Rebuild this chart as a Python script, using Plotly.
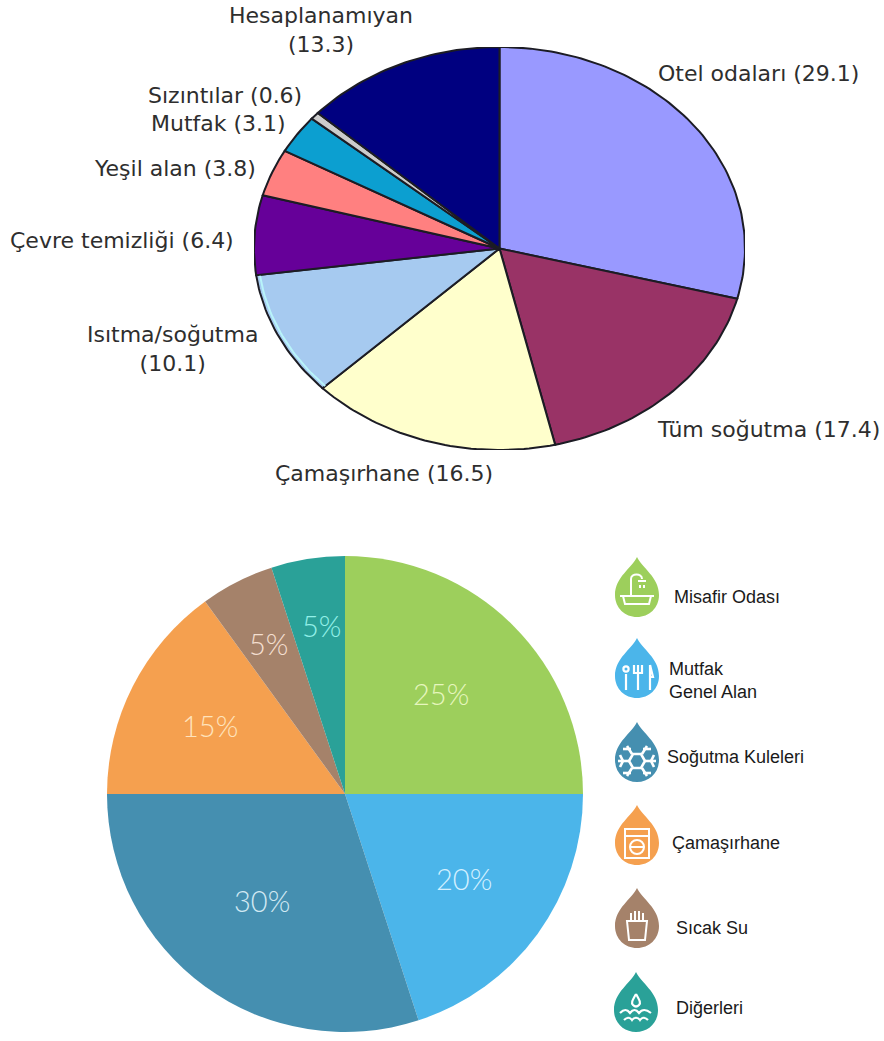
import numpy as np
import plotly.graph_objects as go

W, H = 884, 1041

# Upper chart: share of water use by area
use_names = ["Otel odaları", "Tüm soğutma", "Çamaşırhane", "Isıtma/soğutma", "Çevre temizliği",
             "Yeşil alan", "Mutfak", "Sızıntılar", "Hesaplanamıyan"]
use_values = [29.1, 17.4, 16.5, 10.1, 6.4, 3.8, 3.1, 0.6, 13.3]
use_colors = ["#9999FF", "#993366", "#FFFFCC", "#A6CAF0", "#660099", "#FF8080", "#0C9FD0", "#CCCCCC", "#000080"]
use_label_xy = [(758, 73), (768, 429), (384, 473), (172, 349), (122, 240), (175, 168), (218, 123), (225, 95), (321, 30)]
wrapped_labels = {"Isıtma/soğutma", "Hesaplanamıyan"}

# Lower chart: share by department
dept_names = ["Misafir Odası", "Mutfak<br>Genel Alan", "Soğutma Kuleleri", "Çamaşırhane", "Sıcak Su", "Diğerleri"]
dept_values = [25, 20, 30, 15, 5, 5]
dept_colors = ["#9DCF5C", "#4BB5EA", "#458FB0", "#F5A04F", "#A5826A", "#2AA198"]
dept_value_colors = ["#E6F6BE", "#D3F0FF", "#D2E9F3", "#FFE3BC", "#F4DFD0", "#93F0E8"]
dept_value_xy = [(441, 693), (464, 878), (262, 900), (210, 725), (268, 643), (321, 625)]
dept_text_xy = [(672, 597), (667, 680), (665, 757), (670, 843), (674, 928), (674, 1008)]
dept_drop_xy = [(637, 557), (637, 638), (637, 722), (637, 805), (637, 888), (636, 972)]

fig = go.Figure()

# Elliptical pie: wedges in unit-circle axes, stretched by the axis domains
start = 0.0
total = sum(use_values)
for name, value, color in zip(use_names, use_values, use_colors):
    end = start + value / total * 2 * np.pi
    theta = np.linspace(start, end, max(int(value * 3), 4))
    fig.add_trace(go.Scatter(
        x=np.r_[0, np.sin(theta), 0], y=np.r_[0, np.cos(theta), 0],
        mode="lines", fill="toself", fillcolor=color,
        line=dict(color="#1c1c24", width=2), name=name, showlegend=False,
        xaxis="x2", yaxis="y2", hoverinfo="name",
    ))
    # The heating slice has a pale cyan rim just inside its outline
    if name == "Isıtma/soğutma":
        fig.add_trace(go.Scatter(
            x=0.985 * np.sin(theta), y=0.985 * np.cos(theta), mode="lines",
            line=dict(color="#B8F4FA", width=2), showlegend=False, xaxis="x2", yaxis="y2", hoverinfo="skip",
        ))
    start = end

fig.add_trace(go.Pie(
    values=dept_values, labels=dept_names, sort=False, direction="clockwise", rotation=0,
    marker=dict(colors=dept_colors, line=dict(width=0)), textinfo="none", showlegend=False,
    domain=dict(x=[107 / W, 583 / W], y=[1 - 1032 / H, 1 - 556 / H]),
))

annotations = []


def label(x, y, text, size, color, anchor="center", family="Liberation Sans", weight="normal"):
    annotations.append(dict(x=x, y=y, xref="x", yref="y", text=text, showarrow=False, xanchor=anchor, align=anchor,
                            yanchor="middle", font=dict(family=family, size=size, color=color, weight=weight)))


for name, value, (x, y) in zip(use_names, use_values, use_label_xy):
    sep = "<br>" if name in wrapped_labels else " "
    label(x, y, f"{name}{sep}({value})", 22, "#2e2e2e", family="DejaVu Sans")

for value, color, (x, y) in zip(dept_values, dept_value_colors, dept_value_xy):
    label(x, y, f"{value}%", 29, color, family="Lato", weight=300)

for name, (x, y) in zip(dept_names, dept_text_xy):
    label(x, y, name, 18, "#1a1a1a", anchor="left")

shapes = []


def white_stroke(cx, top, stroke, width):
    path = rel(cx, top, stroke)
    return dict(type="path", path=path, xref="x", yref="y", line=dict(color="white", width=width), layer="above")


def rel(cx, top, parts):
    # Build a path from commands whose coordinates are offsets from the drop's tip
    out = []
    for part in parts:
        cmd, coords = part[0], part[1:]
        pairs = [f"{cx + coords[i]},{top + coords[i + 1]}" for i in range(0, len(coords), 2)]
        out.append(cmd + " ".join(pairs))
    return " ".join(out)


def circle(r, ox, oy):
    k = r * 0.5523
    return [("M", ox - r, oy), ("C", ox - r, oy - k, ox - k, oy - r, ox, oy - r),
            ("C", ox + k, oy - r, ox + r, oy - k, ox + r, oy), ("C", ox + r, oy + k, ox + k, oy + r, ox, oy + r),
            ("C", ox - k, oy + r, ox - r, oy + k, ox - r, oy), ("Z",)]


def segment(x0, y0, x1, y1):
    return [("M", x0, y0), ("L", x1, y1)]


glyphs = [
    # bath and shower
    ([segment(-17, 39, 17, 39),
      [("M", -14, 39), ("L", -12, 47), ("L", 12, 47), ("L", 14, 39)],
      [("M", -6, 39), ("L", -6, 22), ("C", -6, 16, 5, 16, 5, 22)],
      segment(1, 24, 9, 24), segment(3, 28, 3, 31), segment(7, 28, 7, 31)], 2),
    # spoon, fork and knife
    ([segment(-11, 36, -11, 52), circle(2.6, -11, 31),
      segment(1, 27, 1, 52), [("M", -3, 27), ("L", -3, 35), ("L", 5, 35), ("L", 5, 27)],
      segment(13, 27, 13, 52), [("M", 13, 27), ("L", 16, 39), ("L", 13, 39)]], 2.2),
    # snowflake with a hexagonal core
    ([segment(-19, 39, -8, 39), segment(8, 39, 19, 39), segment(-10, 24, -5, 32), segment(5, 46, 10, 54),
      segment(10, 24, 5, 32), segment(-5, 46, -10, 54),
      segment(-17, 33, -14, 39), segment(-17, 45, -14, 39), segment(17, 33, 14, 39), segment(17, 45, 14, 39),
      segment(-14, 27, -6, 27), segment(14, 27, 6, 27), segment(-14, 51, -6, 51), segment(14, 51, 6, 51),
      [("M", -8, 39), ("L", -4, 32), ("L", 4, 32), ("L", 8, 39), ("L", 4, 46), ("L", -4, 46), ("Z",)]], 2.6),
    # washing machine
    ([[("M", -12, 24), ("L", 12, 24), ("L", 12, 53), ("L", -12, 53), ("Z",)], segment(-12, 31, 12, 31),
      circle(7, 0, 42), segment(-6, 42, 6, 42)], 2),
    # cup with steam
    ([[("M", -10, 33), ("L", -8, 52), ("L", 8, 52), ("L", 10, 33), ("Z",)], segment(-6, 33, -6, 25),
      segment(-2, 33, -2, 23), segment(2, 33, 2, 23), segment(6, 33, 6, 25)], 2),
    # droplet over waves
    ([[("M", 0, 22), ("C", 4, 29, 5, 31, 3, 33), ("C", 1, 35, -1, 35, -3, 33), ("C", -5, 31, -4, 29, 0, 22)],
      [("M", -16, 41), ("C", -12, 37, -9, 37, -6, 41), ("C", -3, 37, 0, 37, 3, 41), ("C", 6, 37, 10, 37, 15, 41)],
      [("M", -12, 48), ("C", -9, 45, -6, 45, -4, 48), ("C", -2, 45, 2, 45, 4, 48), ("C", 6, 45, 9, 45, 12, 48)]], 2.2),
]

for color, (cx, top), (strokes, stroke_width) in zip(dept_colors, dept_drop_xy, glyphs):
    drop = rel(cx, top, [("M", 0, 0), ("C", 5, 11, 22, 20, 22, 38), ("C", 22, 51, 12, 60, 0, 60),
                         ("C", -12, 60, -22, 51, -22, 38), ("C", -22, 20, -5, 11, 0, 0), ("Z",)])
    shapes.append(dict(type="path", path=drop, xref="x", yref="y", fillcolor=color, line=dict(width=0), layer="above"))
    for stroke in strokes:
        shapes.append(white_stroke(cx, top, stroke, stroke_width))

fig.update_layout(
    width=W, height=H, margin=dict(l=0, r=0, t=0, b=0), paper_bgcolor="white", plot_bgcolor="rgba(0,0,0,0)",
    xaxis=dict(domain=[0, 1], range=[0, W], visible=False, fixedrange=True),
    yaxis=dict(domain=[0, 1], range=[H, 0], visible=False, fixedrange=True),
    xaxis2=dict(domain=[254 / W, 745 / W], range=[-1, 1], visible=False, anchor="y2"),
    yaxis2=dict(domain=[1 - 450 / H, 1 - 47 / H], range=[-1, 1], visible=False, anchor="x2"),
    annotations=annotations, shapes=shapes,
)
# Keeps the pixel-space axes alive for labels and legend drops
fig.add_trace(go.Scatter(x=[0, W], y=[0, H], mode="markers", marker=dict(opacity=0), showlegend=False, hoverinfo="skip"))

fig.write_html("out.html")
